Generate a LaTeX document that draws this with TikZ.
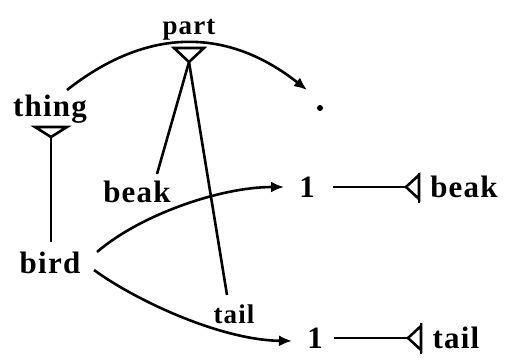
\documentclass[tikz,border=0pt]{standalone}
\usepackage{fontspec}
\setmainfont{Liberation Serif}[LetterSpace=4]
\usetikzlibrary{arrows.meta}
\begin{document}
\begin{tikzpicture}[x=1pt,y=-1pt,
  lbl/.style={font=\bfseries\fontsize{31}{32}\selectfont, inner sep=0pt, anchor=base},
  small/.style={lbl, font=\bfseries\fontsize{27}{28}\selectfont},
  conn/.style={line width=2.6pt},
  arr/.style={conn,-{Latex[length=13pt,width=11pt]}},
  tri/.style={line width=2.6pt, line join=miter}]
\useasboundingbox (0,0) rectangle (509,361);
% labels
\node[small] (part) at (189,35) {part};
\node[lbl] (thing) at (50,117) {thing};
\node[lbl] (bird) at (50,273) {bird};
\node[lbl] (beakL) at (137,202) {beak};
\node[small] (tailL) at (234,323) {tail};
\node[lbl] (one1) at (307,197) {1};
\node[lbl] (beakR) at (464,197) {beak};
\node[lbl] (one2) at (315,348) {1};
\node[lbl] (tailR) at (456,348) {tail};
\node[circle, fill, inner sep=0pt, minimum size=6pt] (dot) at (320,108) {};
% named coordinates
\coordinate (thingapex) at (51,137);
\coordinate (birdtop) at (51,242);
\coordinate (partapex) at (189,62);
\coordinate (beakend) at (157,174);
\coordinate (tailend) at (227,295);
\coordinate (arcstart) at (67,90);
\coordinate (arcend) at (307,90);
\coordinate (bu) at (97,252);
\coordinate (bd) at (94,270);
\coordinate (end1) at (284,187);
\coordinate (end2) at (292,341);
\coordinate (l1s) at (333,187);
\coordinate (t1apex) at (406,187);
\coordinate (l2s) at (334,338);
\coordinate (t2apex) at (408,338);
% triangles
\draw[tri] (35,127) -- (67,127) -- (thingapex) -- cycle;
\draw[tri] (174,48) -- (204,48) -- (partapex) -- cycle;
\draw[tri] (t1apex) -- (419,175) -- (419,199) -- cycle;
\draw[tri] (419,173) -- (419,203);
\draw[tri] (t2apex) -- (421,326) -- (421,350) -- cycle;
\draw[tri] (421,323) -- (421,354);
% connectors
\draw[conn] (thingapex) -- (birdtop);
\draw[conn] (partapex) -- (beakend);
\draw[conn] (partapex) -- (tailend);
\draw[arr] (arcstart) .. controls (147,27) and (227,27) .. (arcend);
\draw[arr] (bu) .. controls (140,215) and (220,187) .. (end1);
\draw[arr] (bd) .. controls (135,300) and (220,340) .. (end2);
\draw[conn] (l1s) -- (t1apex);
\draw[conn] (l2s) -- (t2apex);
\end{tikzpicture}
\end{document}
